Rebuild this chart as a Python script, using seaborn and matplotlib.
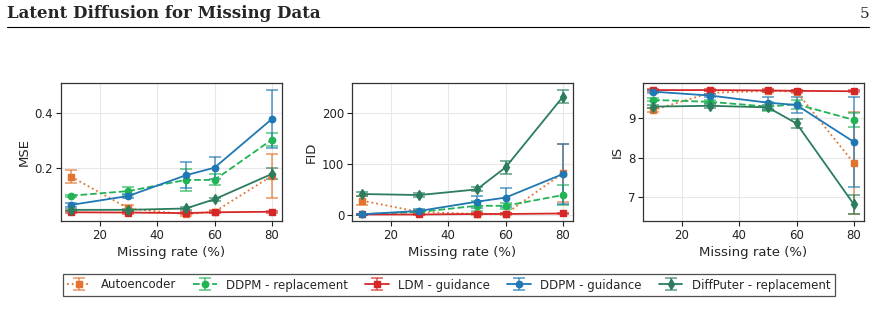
"""
Missing rate sweep: MSE / FID / IS for five imputation methods
"""

import numpy as np
import matplotlib
matplotlib.use("Agg")
import matplotlib.pyplot as plt
from matplotlib.lines import Line2D
import seaborn as sns

# Data
rates = [10, 30, 50, 60, 80]
methods = [
    "Autoencoder",
    "DDPM - replacement",
    "LDM - guidance",
    "DDPM - guidance",
    "DiffPuter - replacement",
]

mse = {
    "Autoencoder": [0.167, 0.050, 0.029, 0.038, 0.170],
    "DDPM - replacement": [0.097, 0.114, 0.155, 0.155, 0.303],
    "LDM - guidance": [0.036, 0.035, 0.033, 0.036, 0.038],
    "DDPM - guidance": [0.063, 0.096, 0.172, 0.200, 0.379],
    "DiffPuter - replacement": [0.045, 0.045, 0.050, 0.084, 0.177],
}
mse_err = {
    "Autoencoder": [0.023, 0.012, 0.006, 0.005, 0.080],
    "DDPM - replacement": [0.004, 0.015, 0.040, 0.020, 0.025],
    "LDM - guidance": [0.004, 0.004, 0.004, 0.004, 0.004],
    "DDPM - guidance": [0.006, 0.008, 0.047, 0.040, 0.106],
    "DiffPuter - replacement": [0.004, 0.004, 0.004, 0.006, 0.020],
}

fid = {
    "Autoencoder": [28, 6, 2, 2, 82],
    "DDPM - replacement": [1.5, 6, 18, 18, 39],
    "LDM - guidance": [1, 1, 2, 2, 3],
    "DDPM - guidance": [1.5, 8, 26, 34, 80],
    "DiffPuter - replacement": [41, 39, 50, 93, 231],
}
fid_err = {
    "Autoencoder": [9, 3, 2, 2, 57],
    "DDPM - replacement": [1, 2, 10, 6, 20],
    "LDM - guidance": [1, 1, 1, 1, 1],
    "DDPM - guidance": [1, 3, 12, 18, 58],
    "DiffPuter - replacement": [4, 4, 4, 12, 13],
}

inception = {
    "Autoencoder": [9.21, 9.65, 9.70, 9.68, 7.86],
    "DDPM - replacement": [9.47, 9.42, 9.30, 9.36, 8.96],
    "LDM - guidance": [9.72, 9.72, 9.71, 9.70, 9.69],
    "DDPM - guidance": [9.68, 9.58, 9.40, 9.34, 8.40],
    "DiffPuter - replacement": [9.30, 9.32, 9.28, 8.87, 6.81],
}
inception_err = {
    "Autoencoder": [0.05, 0.04, 0.03, 0.04, 1.30],
    "DDPM - replacement": [0.04, 0.04, 0.12, 0.12, 0.18],
    "LDM - guidance": [0.03, 0.03, 0.03, 0.03, 0.03],
    "DDPM - guidance": [0.03, 0.04, 0.15, 0.20, 1.14],
    "DiffPuter - replacement": [0.04, 0.05, 0.06, 0.12, 0.24],
}

colors = {
    "Autoencoder": "#e3742f",
    "DDPM - replacement": "#22b357",
    "LDM - guidance": "#d62728",
    "DDPM - guidance": "#1f77b4",
    "DiffPuter - replacement": "#2b7d5e",
}
styles = {
    "Autoencoder": (":", "s"),
    "DDPM - replacement": ("--", "o"),
    "LDM - guidance": ("-", "s"),
    "DDPM - guidance": ("-", "o"),
    "DiffPuter - replacement": ("-", "d"),
}

sns.set_theme(style="ticks")
plt.rcParams["font.family"] = ["DejaVu Sans"]
plt.rcParams["axes.edgecolor"] = "#333333"
plt.rcParams["xtick.color"] = "#222222"
plt.rcParams["ytick.color"] = "#222222"

fig = plt.figure(figsize=(8.76, 3.31), dpi=100)

panels = [
    ("MSE", mse, mse_err, (0.004, 0.511), [0.2, 0.4]),
    ("FID", fid, fid_err, (-11.7, 257.8), [0, 100, 200]),
    ("IS", inception, inception_err, (6.39, 9.9), [7, 8, 9]),
]
lefts = [61, 352, 643]

for left, (name, vals, errs, ylim, yticks) in zip(lefts, panels):
    ax = fig.add_axes([left / 876, 1 - 221 / 331, 221 / 876, 138 / 331])
    for m in methods:
        ls, mk = styles[m]
        ax.errorbar(
            rates, vals[m], yerr=errs[m],
            color=colors[m], ls=ls, lw=1.3, marker=mk, ms=4.6,
            ecolor=matplotlib.colors.to_rgba(colors[m], 0.65),
            elinewidth=1.3, capsize=4, capthick=1.3, label=m,
        )
    ax.set_xlim(6.5, 83.5)
    ax.set_ylim(*ylim)
    ax.set_xticks([20, 40, 60, 80])
    ax.set_yticks(yticks)
    ax.grid(True, color="#e8e8e8", lw=0.8)
    ax.set_axisbelow(True)
    ax.tick_params(labelsize=8.5, length=3.5, width=0.8, pad=2)
    ax.set_xlabel("Missing rate (%)", fontsize=9.5, labelpad=3)
    ax.set_ylabel(name, fontsize=9.5, labelpad=3)
    for s in ax.spines.values():
        s.set_linewidth(0.9)
    if left == 61:
        handles, labels = ax.get_legend_handles_labels()

leg = fig.legend(
    handles, labels, loc="center", bbox_to_anchor=(449 / 876, 1 - 285 / 331),
    ncol=5, fontsize=8.5, frameon=True, fancybox=False, edgecolor="#222222",
    handlelength=2.0, columnspacing=1.45, handletextpad=0.8, borderpad=0.35,
)
leg.get_frame().set_linewidth(0.9)

# page header
fig.text(7 / 876, 1 - 14 / 331, "Latent Diffusion for Missing Data",
         fontsize=12, fontweight="bold", family="DejaVu Serif", va="center")
fig.text(869 / 876, 1 - 14 / 331, "5", fontsize=11, family="DejaVu Serif",
         ha="right", va="center")
fig.add_artist(Line2D([7 / 876, 869 / 876], [1 - 27 / 331, 1 - 27 / 331],
                      color="black", lw=0.8))

fig.savefig("out.png", dpi=100)
